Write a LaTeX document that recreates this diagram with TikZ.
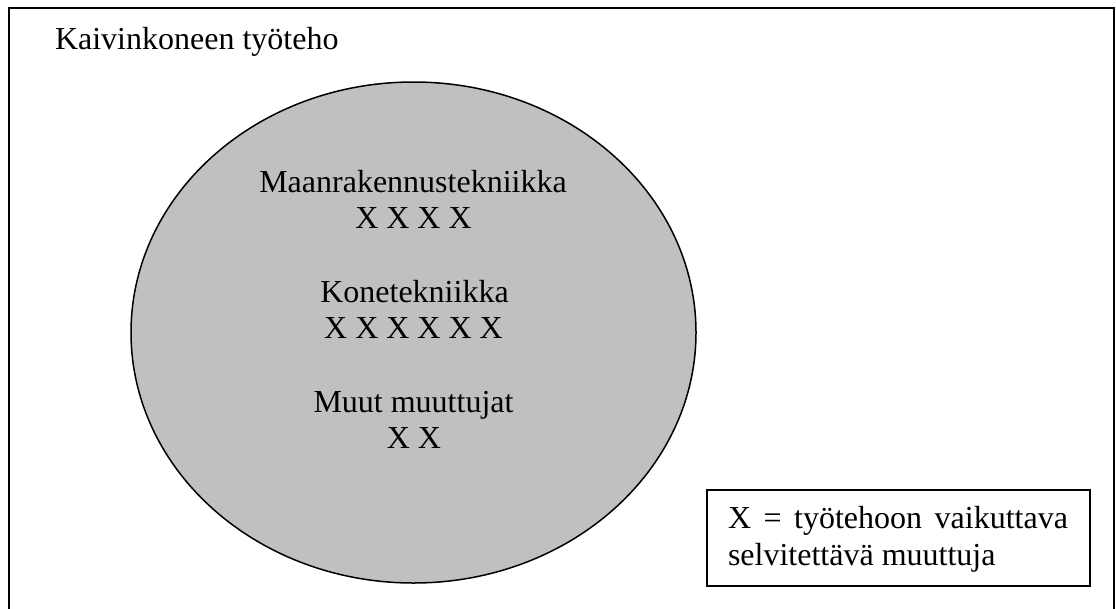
\documentclass[tikz,border=0pt]{standalone}
\usepackage{fontspec}
\setmainfont{Liberation Serif}
\usetikzlibrary{shapes.geometric}
\definecolor{blobgray}{RGB}{192,192,192}
\begin{document}
\begin{tikzpicture}[x=1pt,y=-1pt,
  every node/.style={font=\fontsize{32}{38}\selectfont, inner sep=0pt, outer sep=0pt},
  frame/.style={draw, line width=1.5pt, rectangle, anchor=north west},
  blob/.style={draw, line width=1.5pt, ellipse, fill=blobgray},
  lbl/.style={anchor=base},
]
\useasboundingbox (0,0) rectangle (1116,608);
\node[frame, minimum width=1105pt, minimum height=610pt] (outer) at (9,8) {};
\node[anchor=base west] (title) at (55,49) {Kaivinkoneen työteho};
\node[blob, minimum width=565pt, minimum height=501pt] (area) at (413.5,332.5) {};
\node[lbl] (maa) at (413,192) {Maanrakennustekniikka};
\node[lbl] (maax) at (413.5,228) {X X X X};
\node[lbl] (kone) at (414.5,302) {Konetekniikka};
\node[lbl] (konex) at (413.5,338) {X X X X X X};
\node[lbl] (muut) at (413.5,412) {Muut muuttujat};
\node[lbl] (muutx) at (414,448) {X X};
\node[frame, minimum width=383pt, minimum height=96pt] (legend) at (707,490) {};
\node[anchor=base west] (leg1) at (728,528) {\makebox[340pt][s]{X = työtehoon vaikuttava}};
\node[anchor=base west] (leg2) at (728,565) {selvitettävä muuttuja};
\end{tikzpicture}
\end{document}
